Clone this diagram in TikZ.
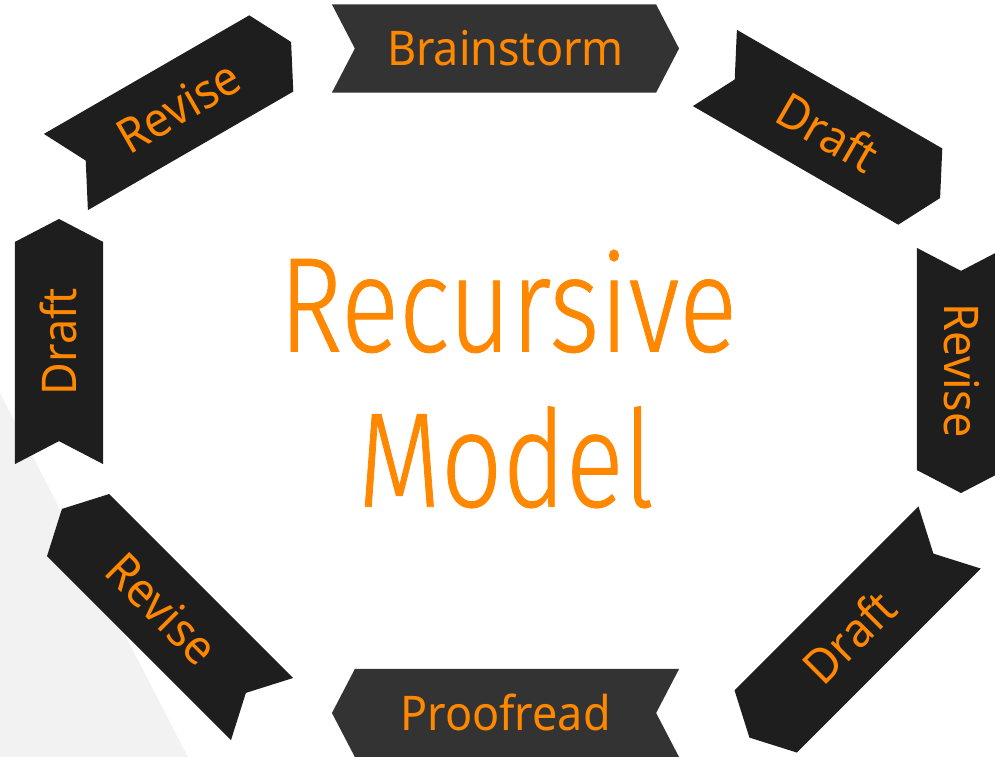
\documentclass[tikz,border=0pt]{standalone}
\usepackage{fontspec}
\setmainfont{Noto Sans}[FakeStretch=0.94]
\newfontfamily\headingfont{Fira Sans Light}[FakeStretch=0.8, FakeBold=0.6]
\usetikzlibrary{shapes.symbols}

\definecolor{ribbonOrange}{HTML}{FF8800}
\definecolor{ribbonGrey}{HTML}{333333}
\definecolor{ribbonBlack}{HTML}{1E1E1E}
\definecolor{paleGrey}{HTML}{F2F2F2}

\tikzstyle{ribbon} = [signal, signal pointer angle=125, fill=ribbonBlack, text=ribbonOrange, minimum height=2.2cm, inner sep=0pt, font=\fontsize{34}{34}\selectfont, text height=0.85cm, text depth=0pt]
\tikzstyle{ribbonFlat} = [ribbon, fill=ribbonGrey, minimum width=8.675cm]
\tikzstyle{pointEast} = [signal to=east, signal from=west]
\tikzstyle{pointWest} = [signal to=west, signal from=east]
\tikzstyle{heading} = [text=ribbonOrange, font=\headingfont\fontsize{96}{96}\selectfont, anchor=base, inner sep=0pt]

\begin{document}
\begin{tikzpicture}[x=0.025cm, y=-0.025cm]
\useasboundingbox (0,0) rectangle (995,757);
\fill[paleGrey] (0,393) -- (188,757) -- (0,757) -- cycle;

\node (brainstorm) [ribbonFlat, pointEast] at (505.5,48.5) {Brainstorm};
\node (draftOne) [ribbon, pointEast, rotate=-30, minimum width=6.5cm] at (827.5,133) {Draft};
\node (reviseOne) [ribbon, pointEast, rotate=-90, minimum width=6.125cm] at (961,370.5) {Revise};
\node (draftTwo) [ribbon, pointWest, rotate=45, minimum width=7.075cm] at (849.5,637.5) {Draft};
\node (proofread) [ribbonFlat, pointWest] at (505.5,713) {Proofread};
\node (reviseTwo) [ribbon, pointWest, rotate=-45, minimum width=7.075cm] at (162,609) {Revise};
\node (draftThree) [ribbon, pointEast, rotate=90, minimum width=6.125cm] at (59,341.5) {Draft};
\node (reviseThree) [ribbon, pointEast, rotate=30, minimum width=6.5cm] at (178.5,107) {Revise};

\node (recursive) [heading] at (508,351.5) {Recursive};
\node (model) [heading] at (506,506.7) {Model};
\end{tikzpicture}
\end{document}
